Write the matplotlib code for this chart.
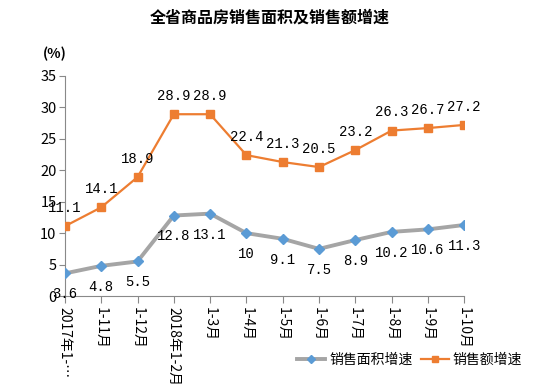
import matplotlib
matplotlib.use("Agg")
import matplotlib.pyplot as plt
from matplotlib.lines import Line2D

plt.rcParams['font.family'] = ['Noto Sans CJK SC', 'DejaVu Sans']

categories = ["2017年1-…", "1-11月", "1-12月", "2018年1-2月", "1-3月", "1-4月",
              "1-5月", "1-6月", "1-7月", "1-8月", "1-9月", "1-10月"]
area_growth = [3.6, 4.8, 5.5, 12.8, 13.1, 10, 9.1, 7.5, 8.9, 10.2, 10.6, 11.3]
sales_growth = [11.1, 14.1, 18.9, 28.9, 28.9, 22.4, 21.3, 20.5, 23.2, 26.3, 26.7, 27.2]
area_name = "销售面积增速"
sales_name = "销售额增速"
title = "全省商品房销售面积及销售额增速"

fig = plt.figure(figsize=(5.5, 3.85), dpi=100)
ax = fig.add_axes([0.118, 0.231, 0.726, 0.572])
x = list(range(len(categories)))

ax.plot(x, area_growth, color="#A5A5A5", lw=2.8, zorder=2)
ax.plot(x, area_growth, ls="none", marker="D", ms=5, color="#5B9BD5", zorder=3)
ax.plot(x, sales_growth, color="#ED7D31", lw=1.6, marker="s", ms=5.5, zorder=3)

lab_font = dict(family=["Liberation Mono", "DejaVu Sans Mono"], fontsize=10)
for xi, v in zip(x, area_growth):
    ax.annotate(f"{v:g}", (xi, v), xytext=(0, -10), textcoords="offset points",
                ha="center", va="top", **lab_font)
for xi, v in zip(x, sales_growth):
    ax.annotate(f"{v:g}", (xi, v), xytext=(0, 8), textcoords="offset points",
                ha="center", va="bottom", **lab_font)

ax.set_xlim(0, len(categories) - 1)
ax.set_ylim(0, 35)
ax.set_yticks(range(0, 36, 5))
ax.set_xticks(x)
ax.set_xticklabels(categories, rotation=270, fontsize=10, va="top", ha="center")
ax.tick_params(axis="y", labelsize=10.5, length=4, color="#898989", pad=2)
ax.tick_params(axis="x", length=5, color="#898989", pad=3)
for s in ["top", "right"]:
    ax.spines[s].set_visible(False)
for s in ["left", "bottom"]:
    ax.spines[s].set_color("#898989")

fig.text(0.49, 0.955, title, ha="center", va="center", fontsize=11.5, fontweight="bold")
fig.text(0.078, 0.86, "(%)", ha="left", va="center", fontsize=10, fontweight="bold")

handles = [Line2D([], [], color="#A5A5A5", lw=2.8, marker="D", ms=4,
                  markerfacecolor="#5B9BD5", markeredgecolor="#5B9BD5"),
           Line2D([], [], color="#ED7D31", lw=1.6, marker="s", ms=4)]
fig.legend(handles, [area_name, sales_name], loc="center", bbox_to_anchor=(0.745, 0.065),
           ncol=2, frameon=False, fontsize=10, handlelength=2.0, columnspacing=0.6,
           handletextpad=0.3)

fig.savefig("out.png", dpi=100)
